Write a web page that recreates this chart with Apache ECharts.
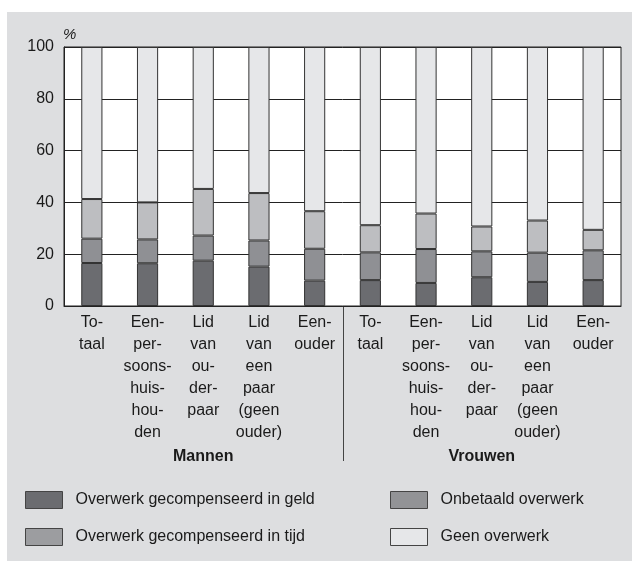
<!DOCTYPE html>
<html>
<head>
<meta charset="utf-8">
<style>
    html, body { margin: 0; padding: 0; background: #fff; }
    #main { position: absolute; left: 7px; top: 12px; width: 625px; height: 549px; background: #dddee0; }
</style>
</head>
<body>
<div id="main"></div>
<script src="https://cdn.jsdelivr.net/npm/echarts@6/dist/echarts.min.js"></script>
<script type="text/javascript">
    // categorieen (mannen eerst, dan vrouwen)
    var categories = [
        'To-\ntaal', 'Een-\nper-\nsoons-\nhuis-\nhou-\nden', 'Lid\nvan\nou-\nder-\npaar', 'Lid\nvan\neen\npaar\n(geen\nouder)', 'Een-\nouder',
        'To-\ntaal', 'Een-\nper-\nsoons-\nhuis-\nhou-\nden', 'Lid\nvan\nou-\nder-\npaar', 'Lid\nvan\neen\npaar\n(geen\nouder)', 'Een-\nouder'
    ];
    var groups = ['Mannen', 'Vrouwen'];
    var yTicks = [0, 20, 40, 60, 80, 100];

    // percentages per categorie
    var geld      = [16.6, 16.5, 17.5, 15.2, 9.8, 10.0, 8.9, 11.1, 9.3, 10.0];
    var onbetaald = [9.4, 9.2, 9.7, 10.1, 12.3, 10.7, 13.1, 10.0, 11.3, 11.5];
    var tijd      = [15.3, 14.3, 18.0, 18.3, 14.5, 10.5, 13.7, 9.6, 12.4, 7.9];
    var geen      = [58.7, 60.0, 54.8, 56.4, 63.4, 68.8, 64.3, 69.3, 67.0, 70.6];

    var names = ['Overwerk gecompenseerd in geld', 'Onbetaald overwerk', 'Overwerk gecompenseerd in tijd', 'Geen overwerk'];
    var colors = ['#6b6c70', '#8f9094', '#bdbec1', '#e6e7e9'];
    var legendColors = ['#6b6c70', '#929396', '#9c9da0', '#e6e7e9'];

    function makeSeries(name, data, color) {
        return {
            name: name,
            type: 'bar',
            stack: 'totaal',
            barWidth: '38%',
            data: data,
            itemStyle: { color: color, borderColor: '#333', borderWidth: 1 },
            emphasis: { disabled: true }
        };
    }

    // legenda: 2 kolommen, elk item apart geplaatst
    var legendPos = [[18, 479], [383, 479], [18, 516], [383, 516]];
    var legends = names.map(function (n, i) {
        return {
            left: legendPos[i][0],
            top: legendPos[i][1],
            padding: 0,
            itemWidth: 37,
            itemHeight: 17,
            selectedMode: false,
            data: [{ name: n, icon: 'rect', itemStyle: { color: legendColors[i], borderColor: '#444', borderWidth: 1 } }],
            textStyle: { fontFamily: 'Liberation Sans', fontSize: 16, color: '#1a1a1a', padding: [0, 0, 0, 8] }
        };
    });

    var myChart = echarts.init(document.getElementById('main'));

    var option = {
        animation: false,
        textStyle: { fontFamily: 'Liberation Sans' },
        legend: legends,
        grid: {
            left: 57, right: 11, top: 35, bottom: 255,
            show: true, backgroundColor: '#fff', borderColor: '#222', borderWidth: 1
        },
        xAxis: [{
            type: 'category',
            data: categories,
            axisLine: { lineStyle: { color: '#222', width: 1 } },
            axisTick: { show: false },
            axisLabel: {
                interval: 0,
                margin: 6,
                fontSize: 16,
                lineHeight: 22,
                color: '#1a1a1a',
                fontFamily: 'Liberation Sans'
            }
        }, {
            type: 'category',
            data: groups,
            position: 'bottom',
            offset: 133,
            axisLine: { show: false },
            axisTick: { show: false },
            axisLabel: {
                margin: 10,
                fontSize: 16,
                fontWeight: 'bold',
                color: '#1a1a1a',
                fontFamily: 'Liberation Sans'
            }
        }],
        yAxis: {
            type: 'value',
            min: yTicks[0],
            max: yTicks[yTicks.length - 1],
            interval: 20,
            name: '%',
            nameLocation: 'end',
            nameGap: 5,
            nameTextStyle: { fontSize: 15, color: '#1a1a1a', align: 'left', padding: [0, 0, 0, -1], fontStyle: 'italic' },
            axisLine: { show: true, lineStyle: { color: '#222' } },
            axisTick: { show: false },
            axisLabel: { fontSize: 16, color: '#1a1a1a', margin: 10, fontFamily: 'Liberation Sans' },
            splitLine: { show: true, lineStyle: { color: '#222', width: 1 } }
        },
        series: [
            makeSeries(names[0], geld, colors[0]),
            makeSeries(names[1], onbetaald, colors[1]),
            makeSeries(names[2], tijd, colors[2]),
            makeSeries(names[3], geen, colors[3])
        ]
    };

    myChart.setOption(option);

    // scheidingslijn tussen mannen en vrouwen, onder de x-as
    var c4 = myChart.convertToPixel({ xAxisIndex: 0 }, 4);
    var c5 = myChart.convertToPixel({ xAxisIndex: 0 }, 5);
    var y0 = myChart.convertToPixel({ yAxisIndex: 0 }, 0);
    var sepX = Math.round((c4 + c5) / 2) + 0.5;
    myChart.setOption({
        graphic: [{
            type: 'line',
            shape: { x1: sepX, y1: y0, x2: sepX, y2: y0 + 155 },
            style: { stroke: '#444', lineWidth: 1 },
            silent: true
        }]
    });
</script>
</body>
</html>
